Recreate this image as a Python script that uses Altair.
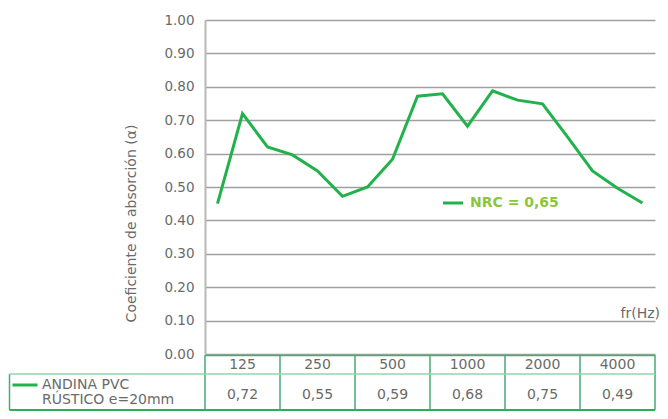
import altair as alt
import pandas as pd

# third-octave band values (100 Hz .. 5000 Hz)
band_values = [0.45, 0.72, 0.62, 0.596, 0.548, 0.472, 0.50, 0.583, 0.772,
               0.779, 0.682, 0.788, 0.76, 0.749, 0.65, 0.548, 0.496, 0.452]
octave_labels = ["125", "250", "500", "1000", "2000", "4000"]
octave_values = ["0,72", "0,55", "0,59", "0,68", "0,75", "0,49"]
y_ticks = [0.0, 0.1, 0.2, 0.3, 0.4, 0.5, 0.6, 0.7, 0.8, 0.9, 1.0]
series_name = ["ANDINA PVC", "RÚSTICO e=20mm"]
nrc_text = "NRC = 0,65"

FONT = "DejaVu Sans"
GREEN = "#22b24c"
GRAY_TXT = "#6a6a6a"
TABLE_GREEN = "#45ad73"

W, H = 450, 334

line_df = pd.DataFrame({"x": [i + 0.5 for i in range(len(band_values))],
                        "y": band_values})
tab_df = pd.DataFrame({"xc": [3 * k + 1.5 for k in range(len(octave_labels))],
                       "label": octave_labels, "val": octave_values})
vlines_df = pd.DataFrame({"xb": [3 * k for k in range(len(octave_labels) + 1)]})
one_df = pd.DataFrame({"d": [0]})

xs = alt.Scale(domain=[0, 18])
ys = alt.Scale(domain=[0, 1])

base_line = alt.Chart(line_df).mark_line(color=GREEN, strokeWidth=3, clip=False).encode(
    x=alt.X("x:Q", scale=xs, axis=None),
    y=alt.Y("y:Q", scale=ys, axis=alt.Axis(
        values=y_ticks, format=".2f", title="Coeficiente de absorción (α)",
        grid=True, gridColor="#a0a0a0", gridWidth=1.4, ticks=False,
        domain=True, domainColor="#b8b8b8", domainWidth=2,
        labelColor=GRAY_TXT, labelFont=FONT, labelFontSize=13.5, labelPadding=11,
        titleColor=GRAY_TXT, titleFont=FONT, titleFontSize=14, titleFontWeight="normal",
        titlePadding=25, titleY=203, titleAlign="center")),
)

# table: vertical lines of the frequency columns
vlines = alt.Chart(vlines_df).mark_rule(color=TABLE_GREEN, strokeWidth=1.5).encode(
    x=alt.X("xb:Q", scale=xs), y=alt.value(335), y2=alt.value(390))
left_v = alt.Chart(one_df).mark_rule(color=TABLE_GREEN, strokeWidth=1.5).encode(
    x=alt.value(-195.5), y=alt.value(354), y2=alt.value(390))
h_top = alt.Chart(one_df).mark_rule(color=TABLE_GREEN, strokeWidth=1.5).encode(
    x=alt.value(0), x2=alt.value(W), y=alt.value(335.5))
h_mid = alt.Chart(one_df).mark_rule(color="#94d3ac", strokeWidth=1.5).encode(
    x=alt.value(-195.5), x2=alt.value(W), y=alt.value(354))
h_bot = alt.Chart(one_df).mark_rule(color="#2fae55", strokeWidth=2).encode(
    x=alt.value(-195.5), x2=alt.value(W), y=alt.value(390))

freq_txt = alt.Chart(tab_df).mark_text(font=FONT, fontSize=14, color=GRAY_TXT,
                                       baseline="middle").encode(
    x=alt.X("xc:Q", scale=xs), y=alt.value(345), text="label:N")
val_txt = alt.Chart(tab_df).mark_text(font=FONT, fontSize=14, color=GRAY_TXT,
                                      baseline="middle").encode(
    x=alt.X("xc:Q", scale=xs), y=alt.value(375), text="val:N")

name1 = alt.Chart(one_df).mark_text(font=FONT, fontSize=14, color=GRAY_TXT,
                                    align="left", baseline="middle",
                                    text=series_name[0]).encode(
    x=alt.value(-163), y=alt.value(365))
name2 = alt.Chart(one_df).mark_text(font=FONT, fontSize=14, color=GRAY_TXT,
                                    align="left", baseline="middle",
                                    text=series_name[1]).encode(
    x=alt.value(-163), y=alt.value(380))
legend_line = alt.Chart(one_df).mark_rule(color=GREEN, strokeWidth=3).encode(
    x=alt.value(-192.5), x2=alt.value(-167.5), y=alt.value(365))

# NRC note
nrc_line = alt.Chart(one_df).mark_rule(color=GREEN, strokeWidth=3).encode(
    x=alt.value(238), x2=alt.value(258), y=alt.value(183))
nrc_txt = alt.Chart(one_df).mark_text(font=FONT, fontSize=14, fontWeight="bold",
                                      color="#8cc63f", align="left",
                                      baseline="middle", text=nrc_text).encode(
    x=alt.value(265), y=alt.value(183))

fr_txt = alt.Chart(one_df).mark_text(font=FONT, fontSize=14, color=GRAY_TXT,
                                     align="right", baseline="alphabetic",
                                     text="fr(Hz)").encode(
    x=alt.value(455), y=alt.value(298))

chart = alt.layer(
    base_line, vlines, left_v, h_top, h_mid, h_bot, freq_txt, val_txt, name1, name2,
    legend_line, nrc_line, nrc_txt, fr_txt
).properties(
    width=W, height=H,
    autosize=alt.AutoSizeParams(type="none"),
    padding={"left": 197, "top": 12, "right": 5, "bottom": 57},
    background="white",
).configure_view(stroke=None)

chart.save("out.html", embed_options={"renderer": "svg", "actions": False})
